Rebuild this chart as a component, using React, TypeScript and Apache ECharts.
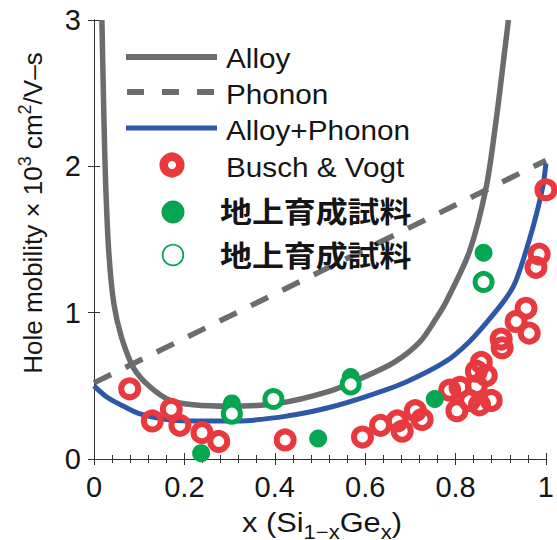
import { useEffect, useRef } from 'react';
import * as echarts from 'echarts';

// ---- data ----
const alloyCurve: number[][] = [
  [0.0175, 3.0], [0.022, 2.32], [0.026, 1.86], [0.033, 1.40], [0.044, 1.06],
  [0.061, 0.83], [0.088, 0.62], [0.125, 0.49], [0.169, 0.40], [0.22, 0.37],
  [0.298, 0.36], [0.408, 0.38], [0.518, 0.46], [0.59, 0.55], [0.664, 0.66],
  [0.721, 0.80], [0.759, 0.97], [0.78, 1.08], [0.831, 1.42], [0.868, 1.86],
  [0.89, 2.32], [0.908, 2.77], [0.917, 3.0],
];
const phononLine: number[][] = [[0, 0.52], [1, 2.04]];
const alloyPhononCurve: number[][] = [
  [0, 0.5], [0.03, 0.42], [0.072, 0.35], [0.1, 0.31], [0.15, 0.275], [0.21, 0.26],
  [0.32, 0.26], [0.43, 0.295], [0.518, 0.35], [0.605, 0.43], [0.693, 0.53],
  [0.78, 0.67], [0.83, 0.80], [0.868, 0.93], [0.912, 1.1], [0.934, 1.22],
  [0.971, 1.58], [0.993, 1.86], [1.0, 2.02],
];
const buschVogt: number[][] = [
  [0.079, 0.48], [0.129, 0.26], [0.171, 0.34], [0.19, 0.23], [0.239, 0.18],
  [0.276, 0.12], [0.423, 0.13], [0.594, 0.15], [0.634, 0.23], [0.671, 0.26],
  [0.682, 0.19], [0.711, 0.33], [0.726, 0.27], [0.787, 0.47], [0.803, 0.33],
  [0.81, 0.49], [0.831, 0.40], [0.846, 0.50], [0.846, 0.60], [0.857, 0.66],
  [0.868, 0.57], [0.879, 0.40], [0.853, 0.37], [0.901, 0.82], [0.903, 0.76],
  [0.934, 0.94], [0.956, 1.03], [0.963, 0.86], [0.978, 1.31], [0.985, 1.40],
  [1.0, 1.84],
];
const groundFilled: number[][] = [
  [0.237, 0.04], [0.305, 0.38], [0.496, 0.14], [0.568, 0.56], [0.754, 0.41], [0.862, 1.41],
];
const groundOpen: number[][] = [
  [0.305, 0.31], [0.397, 0.41], [0.568, 0.51], [0.862, 1.21],
];
const legendLabels = ['Alloy', 'Phonon', 'Alloy+Phonon', 'Busch & Vogt', '地上育成試料', '地上育成試料'];

const GRAY = '#6b6c6e';
const BLUE = '#2d58a7';
const RED = '#e8393f';
const GREEN = '#05a650';
const INK = '#151515';
const FONT = '"Liberation Sans", Arial, Helvetica, sans-serif';
const CJK = '"Noto Sans CJK JP", "Noto Sans CJK SC", sans-serif';

export default function App() {
  const ref = useRef<HTMLDivElement>(null);
  useEffect(() => {
    if (!ref.current) return;
    const chart = echarts.init(ref.current, undefined, { renderer: 'svg' });
    const axisLine = { show: true, lineStyle: { color: '#333', width: 1 } };
    const tickLabel = { fontSize: 29, fontFamily: FONT, color: INK };
    const legendText = (i: number, x: number, y: number, cjk = false) => ({
      type: 'text', x, y, scaleX: 1.1, z: 100,
      style: {
        text: legendLabels[i], fill: INK, fontSize: cjk ? 29 : 27,
        fontFamily: cjk ? CJK : FONT, fontWeight: cjk ? 'bold' : 'normal',
        align: 'left', verticalAlign: 'middle',
      },
    });
    chart.setOption({
      animation: false,
      backgroundColor: '#fff',
      grid: { left: 94, right: 6, top: 20, bottom: 81 },
      xAxis: [
        {
          type: 'value', min: 0, max: 1, interval: 0.2, position: 'bottom',
          axisLine, splitLine: { show: false },
          axisTick: { inside: true, length: 6, lineStyle: { color: '#333' } },
          minorTick: { show: true, splitNumber: 5, length: 4, lineStyle: { color: '#333' } },
          axisLabel: { ...tickLabel, margin: 13 },
        },
        {
          type: 'value', min: 0, max: 1, interval: 0.2, position: 'top',
          axisLine, splitLine: { show: false },
          axisTick: { inside: true, length: 6, lineStyle: { color: '#333' } },
          minorTick: { show: true, splitNumber: 5, length: 4, lineStyle: { color: '#333' } },
          axisLabel: { show: false },
        },
      ],
      yAxis: [
        {
          type: 'value', min: 0, max: 3, interval: 1, position: 'left',
          axisLine, splitLine: { show: false },
          axisTick: { inside: true, length: 6, lineStyle: { color: '#333' } },
          axisLabel: { ...tickLabel, margin: 13 },
        },
        {
          type: 'value', min: 0, max: 3, interval: 1, position: 'right',
          axisLine, splitLine: { show: false },
          axisTick: { inside: true, length: 6, lineStyle: { color: '#333' } },
          axisLabel: { show: false },
        },
      ],
      series: [
        {
          name: 'Alloy', type: 'line', data: alloyCurve, smooth: 0.3,
          showSymbol: false, lineStyle: { color: GRAY, width: 5.5 }, z: 2,
        },
        {
          name: 'Phonon', type: 'line', data: phononLine, showSymbol: false,
          lineStyle: { color: GRAY, width: 5.5, type: [19, 16] }, z: 2,
        },
        {
          name: 'Alloy+Phonon', type: 'line', data: alloyPhononCurve, smooth: 0.3,
          showSymbol: false, lineStyle: { color: BLUE, width: 5 }, z: 3,
        },
        {
          name: 'Busch & Vogt', type: 'scatter', data: buschVogt, symbol: 'circle', symbolSize: 17,
          itemStyle: { color: 'rgba(255,255,255,0)', borderColor: RED, borderWidth: 6, opacity: 1 }, z: 4,
        },
        {
          name: '地上育成試料 (filled)', type: 'scatter', data: groundFilled, symbol: 'circle', symbolSize: 18,
          itemStyle: { color: GREEN, opacity: 1 }, z: 5,
        },
        {
          name: '地上育成試料 (open)', type: 'scatter', data: groundOpen, symbol: 'circle', symbolSize: 17,
          itemStyle: { color: '#fff', borderColor: GREEN, borderWidth: 5, opacity: 1 }, z: 6,
        },
      ],
      graphic: [
        { type: 'line', z: 100, shape: { x1: 126, y1: 57, x2: 217, y2: 57 }, style: { stroke: GRAY, lineWidth: 6 } },
        { type: 'line', z: 100, shape: { x1: 127, y1: 92, x2: 217, y2: 92 }, style: { stroke: GRAY, lineWidth: 6, lineDash: [17, 18] } },
        { type: 'line', z: 100, shape: { x1: 126, y1: 128, x2: 217, y2: 128 }, style: { stroke: BLUE, lineWidth: 5 } },
        { type: 'circle', z: 100, shape: { cx: 172, cy: 165, r: 8.3 }, style: { fill: 'none', stroke: RED, lineWidth: 8.5 } },
        { type: 'circle', z: 100, shape: { cx: 173, cy: 212, r: 11 }, style: { fill: GREEN, stroke: '#0a8a45', lineWidth: 1 } },
        { type: 'circle', z: 100, shape: { cx: 173, cy: 255, r: 10.3 }, style: { fill: '#fff', stroke: GREEN, lineWidth: 1.8 } },
        legendText(0, 226, 58),
        legendText(1, 226, 94),
        legendText(2, 226, 130),
        legendText(3, 226, 167),
        legendText(4, 220, 211, true),
        legendText(5, 220, 255, true),
        {
          type: 'text', x: 322, y: 522, scaleX: 1.1, z: 100,
          style: {
            text: '{a|x (Si}{b|1−x}{a|Ge}{b|x}{a|)}',
            align: 'center', verticalAlign: 'middle',
            rich: {
              a: { fontSize: 28, fontFamily: FONT, fill: INK, lineHeight: 28, verticalAlign: 'top' },
              b: { fontSize: 20, fontFamily: FONT, fill: INK, lineHeight: 20, padding: [14, 0, 0, 0], verticalAlign: 'top' },
            },
          },
        },
        {
          type: 'text', x: 31, y: 213, rotation: Math.PI / 2, z: 100,
          style: {
            text: '{a|Hole mobility × 10}{s|3}{a| cm}{s|2}{a|/V–s}',
            align: 'center', verticalAlign: 'middle',
            rich: {
              a: { fontSize: 26, fontFamily: FONT, fill: INK, lineHeight: 30, verticalAlign: 'bottom' },
              s: { fontSize: 18, fontFamily: FONT, fill: INK, lineHeight: 20, verticalAlign: 'top' },
            },
          },
        },
      ],
    });
    return () => chart.dispose();
  }, []);
  return <div ref={ref} style={{ width: 557, height: 540, position: 'absolute', left: 0, top: 0 }} />;
}
